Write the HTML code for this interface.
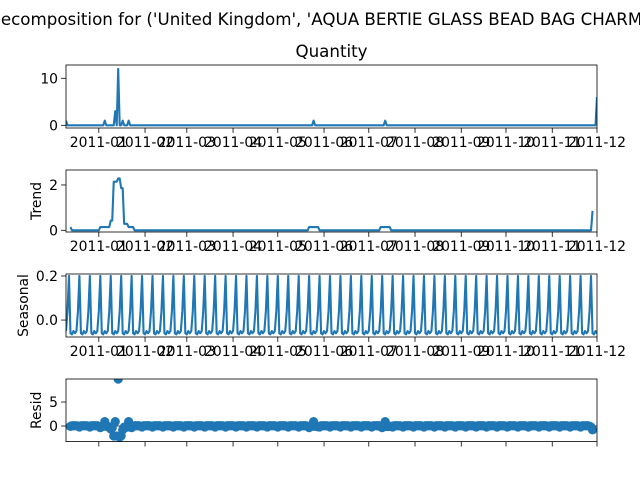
<!DOCTYPE html>
<html><head><meta charset="utf-8"><style>
html,body{margin:0;padding:0;background:#fff;}
svg{display:block;font-family:"DejaVu Sans","Liberation Sans",sans-serif;}
</style></head><body>
<svg id="fig" width="640" height="480" viewBox="0 0 640 480">
<text x="-12" y="25" font-size="16.7" fill="#000">Decomposition for ('United Kingdom', 'AQUA BERTIE GLASS BEAD BAG CHARM')</text>
<text x="331.5" y="57" font-size="16.7" text-anchor="middle" fill="#000">Quantity</text>
</svg>
<script>
// ---- data ----
const startDate = "2010-12-10";
const nDays = 357;
const spikeDays = [0, 26, 33, 35, 38, 42, 166, 214, 356];
const spikeValues = [1, 1, 3, 12, 1, 1, 1, 1, 6];
const seasonalPattern = [-0.05, 0.04, 0.2, -0.06, -0.065, -0.05, -0.06];
const monthTickDays = [22, 53, 81, 112, 142, 173, 203, 234, 265, 295, 326, 356];
const monthTickLabels = ["2011-01","2011-02","2011-03","2011-04","2011-05","2011-06","2011-07","2011-08","2011-09","2011-10","2011-11","2011-12"];
const qTicks = [0, 10];
const trendTicks = [0, 2];
const seasTicks = [0.0, 0.2];
const seasTickLabels = ["0.0", "0.2"];
const residTicks = [0, 5];

const C = "#1f77b4";
const NS = "http://www.w3.org/2000/svg";
const svg = document.getElementById('fig');
function mk(tag, attrs, parent) {
  const e = document.createElementNS(NS, tag);
  for (const k in attrs) e.setAttribute(k, attrs[k]);
  (parent || svg).appendChild(e);
  return e;
}
const quantity = new Array(nDays).fill(0);
spikeDays.forEach((d, i) => { quantity[d] = spikeValues[i]; });
const trend = quantity.map((v, i) => {
  if (i < 3 || i > nDays - 4) return null;
  let s = 0; for (let k = -3; k <= 3; k++) s += quantity[i + k]; return s / 7;
});
const seasonal = quantity.map((v, i) => seasonalPattern[i % 7]);
const resid = quantity.map((v, i) => trend[i] === null ? null : v - trend[i] - seasonal[i]);

const X0 = 66, X1 = 597;
const xs = d => X0 + (d / (nDays - 1)) * (X1 - X0);

const panels = [
  {name:'quantity', top:65, bot:128, ymin:-0.57, ymax:12.83, ticks:qTicks, labels:qTicks.map(String), label:null, data:quantity, kind:'line'},
  {name:'trend', top:170, bot:232, ymin:-0.075, ymax:2.66, ticks:trendTicks, labels:trendTicks.map(String), label:'Trend', data:trend, kind:'line'},
  {name:'seasonal', top:274, bot:337, ymin:-0.077, ymax:0.209, ticks:seasTicks, labels:seasTickLabels, label:'Seasonal', data:seasonal, kind:'line'},
  {name:'resid', top:379, bot:441.6, ymin:-3.25, ymax:9.8, ticks:residTicks, labels:residTicks.map(String), label:'Resid', data:resid, kind:'dots'}
];

panels.forEach(p => {
  const g = mk('g', {});
  
  
  const ys = v => p.bot - (v - p.ymin) / (p.ymax - p.ymin) * (p.bot - p.top);
  const clipId = 'clip-' + p.name;
  const cp = mk('clipPath', {id: clipId}, g);
  mk('rect', {x: X0, y: p.top, width: X1 - X0, height: p.bot - p.top}, cp);
  const plot = mk('g', {'clip-path': 'url(#' + clipId + ')'}, g);
  if (p.kind === 'line') {
    let d = '', pen = false;
    p.data.forEach((v, i) => {
      if (v === null) { pen = false; return; }
      d += (pen ? 'L' : 'M') + xs(i).toFixed(2) + ' ' + ys(v).toFixed(2);
      pen = true;
    });
    const path = mk('path', {d: d, fill: 'none', stroke: C, 'stroke-width': 2.1, 'stroke-linejoin': 'round'}, plot);
    
    
  } else {
    const zl = mk('line', {x1: X0, x2: X1, y1: ys(0), y2: ys(0), stroke: '#000', 'stroke-width': 0.8}, plot);
    
    
    p.data.forEach((v, i) => {
      if (v === null) return;
      const c = mk('circle', {cx: xs(i), cy: ys(v), r: 4.6, fill: C}, plot);
      
      
    });
  }
  const frame = mk('rect', {x: X0, y: p.top, width: X1 - X0, height: p.bot - p.top, fill: 'none', stroke: '#000', 'stroke-width': 0.8}, g);
  
  
  let maxW = 0;
  p.ticks.forEach((t, i) => {
    const y = ys(t);
    mk('line', {x1: X0 - 4.9, x2: X0, y1: y, y2: y, stroke: '#000', 'stroke-width': 0.8}, g);
    const tx = mk('text', {x: X0 - 8, y: y + 5, 'font-size': 13.9, 'text-anchor': 'end', fill: '#000'}, g);
    tx.textContent = p.labels[i];
    
    
    maxW = Math.max(maxW, tx.getComputedTextLength ? tx.getComputedTextLength() : 9 * p.labels[i].length);
  });
  monthTickDays.forEach((d, i) => {
    const x = xs(d);
    mk('line', {x1: x, x2: x, y1: p.bot, y2: p.bot + 4.9, stroke: '#000', 'stroke-width': 0.8}, g);
    if (p.name !== 'resid') {
      const tx = mk('text', {x: x, y: p.bot + 19, 'font-size': 13.9, 'text-anchor': 'middle', fill: '#000'}, g);
      tx.textContent = monthTickLabels[i];
      
      
    }
  });
  if (p.label) {
    const cy = (p.top + p.bot) / 2;
    const lx = X0 - 8 - maxW - 8;
    const lb = mk('text', {x: 0, y: 0, 'font-size': 13.9, 'text-anchor': 'middle', fill: '#000', transform: 'translate(' + lx + ' ' + cy + ') rotate(-90)'}, g);
    lb.textContent = p.label;
    
    
  }
});
</script>
</body></html>
